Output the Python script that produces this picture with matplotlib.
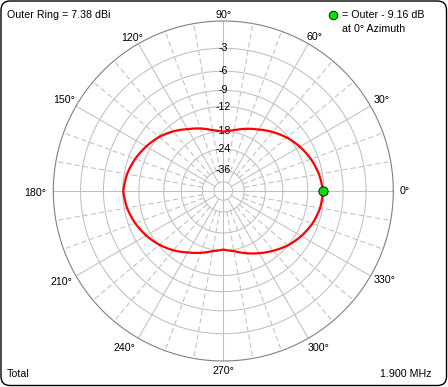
import numpy as np
import matplotlib
matplotlib.use('Agg')
import matplotlib.pyplot as plt
from matplotlib.patches import FancyBboxPatch

plt.rcParams['font.family'] = ['Liberation Sans', 'DejaVu Sans']

# ---- data ----
azimuth_deg = list(range(0, 361, 10))
gain_rel_db = [-9.16, -9.6, -10.3, -11.2, -12.3, -13.6, -15.0, -16.2, -17.4, -18.1,
               -17.4, -16.1, -14.9, -13.4, -12.1, -11.1, -10.2, -9.5, -9.1,
               -9.5, -10.2, -11.1, -12.2, -13.5, -15.0, -16.3, -17.6, -18.3,
               -17.6, -16.2, -14.8, -13.4, -12.0, -10.9, -10.0, -9.4, -9.16]
outer_ring_dbi = 7.38
ring_db = [-3, -6, -9, -12, -18, -24, -36]
ring_labels = ['-3', '-6', '-9', '-12', '-18', '-24', '-36']
inner_ring_db = -50
angle_ticks = [0, 30, 60, 90, 120, 150, 180, 210, 240, 270, 300, 330]
cursor_az = 0
cursor_db = -9.16
freq_mhz = 1.900
pattern_name = 'Total'

# ---- layout ----
W, H = 448, 387
fig = plt.figure(figsize=(W / 100, H / 100), dpi=100)
fig.patch.set_facecolor('white')

bg = fig.add_axes([0, 0, 1, 1])
bg.set_xlim(0, W)
bg.set_ylim(H, 0)
bg.axis('off')
bg.add_patch(FancyBboxPatch((1.0, 1.0), W - 2.5, H - 2.5,
                            boxstyle='round,pad=0,rounding_size=9',
                            fc='white', ec='black', lw=1.0))

FS = 7.7
bg.text(7, 15, f'Outer Ring = {outer_ring_dbi:.2f} dBi', ha='left', va='center', fontsize=FS)
bg.plot([333], [15], 'o', ms=6.2, mfc='#00E000', mec='black', mew=0.6)
bg.text(342, 15, f'= Outer - {abs(cursor_db):.2f} dB', ha='left', va='center', fontsize=FS)
bg.text(342, 29, f'at {cursor_az}° Azimuth', ha='left', va='center', fontsize=FS)
bg.text(7, 374, pattern_name, ha='left', va='center', fontsize=FS)
bg.text(432, 374, f'{freq_mhz:.3f} MHz', ha='right', va='center', fontsize=FS)

cx, cy, R = 223.3, 191.0, 170.0
ax = fig.add_axes([(cx - R) / W, (H - cy - R) / H, 2 * R / W, 2 * R / H],
                  projection='polar')


def fwd(v):
    return 0.89 ** (-np.asarray(v, dtype=float) / 2.0)


def inv(s):
    s = np.clip(np.asarray(s, dtype=float), 1e-300, None)
    return -2.0 * np.log(s) / np.log(0.89)


ax.set_rscale('function', functions=(fwd, inv))
ax.set_ylim(-400, 0)
ax.set_xticks([])
ax.set_yticks([])
ax.grid(False)
ax.spines['polar'].set_visible(False)
ax.patch.set_visible(False)

grid_c = '#C0C0C0'
th = np.linspace(0, 2 * np.pi, 721)
for rd in ring_db + [inner_ring_db]:
    ax.plot(th, np.full_like(th, rd), color=grid_c, lw=0.75, zorder=1)
ax.plot(th, np.zeros_like(th), color='#808080', lw=0.8, zorder=2, clip_on=False)

for a in range(0, 360, 10):
    t = np.deg2rad(a)
    if a % 90 == 0:
        ax.plot([t, t], [-400, 0], color=grid_c, lw=0.75, zorder=1)
    elif a % 30 == 0:
        ax.plot([t, t], [inner_ring_db, 0], color=grid_c, lw=0.75, zorder=1)
    else:
        ax.plot([t, t], [-36, 0], color=grid_c, lw=0.75, zorder=1,
                dashes=(5, 3))

for rd, lab in zip(ring_db, ring_labels):
    ax.text(np.pi / 2, rd, lab, ha='center', va='center', fontsize=FS, zorder=3)

label_offsets = {0: (11.4, 0), 30: (11, -6), 60: (6.5, -7), 90: (0, -6),
                 120: (-6, -6), 150: (-11.8, -6), 180: (-18, 2), 210: (-15, 5.7),
                 240: (-14, 10), 270: (0, 10), 300: (10, 10), 330: (14, 4)}
for a in angle_ticks:
    dx, dy = label_offsets[a]
    ax.annotate(f'{a}°', xy=(np.deg2rad(a), 0), xytext=(dx, -dy),
                textcoords='offset pixels', ha='center', va='center',
                fontsize=FS, annotation_clip=False)

ln, = ax.plot(np.deg2rad(azimuth_deg), gain_rel_db, color='#FF0000', lw=1.6,
              zorder=4, solid_joinstyle='round')
# let the polar projection draw each segment as a curve in (angle, radius)
ln.get_path()._interpolation_steps = 12
ax.plot([np.deg2rad(cursor_az)], [cursor_db], 'o', ms=6.7, mfc='#00E000',
        mec='black', mew=0.6, zorder=5)

fig.savefig('out.png', dpi=100)
